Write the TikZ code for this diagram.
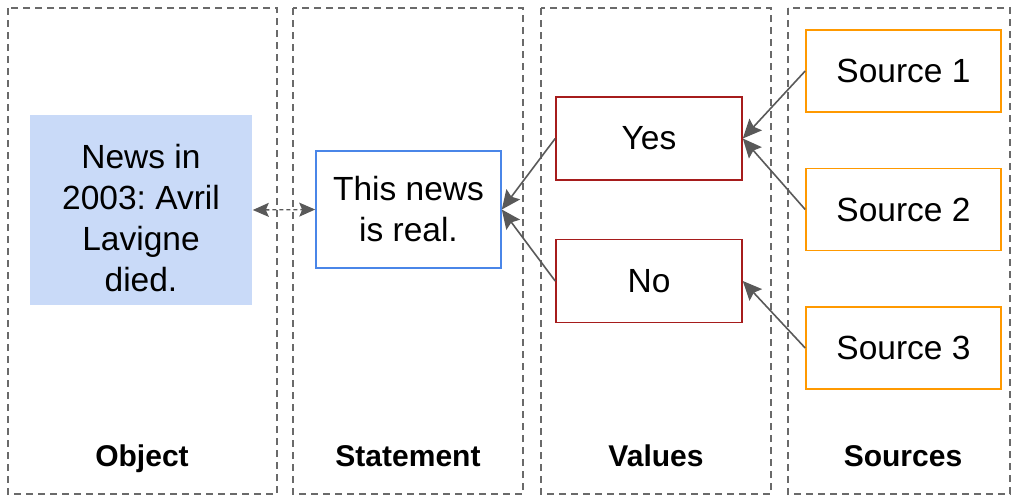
\documentclass[tikz,border=0pt]{standalone}
\usepackage{fontspec}
\setmainfont{Liberation Sans}
\frenchspacing
\usetikzlibrary{arrows.meta}
\definecolor{objfill}{HTML}{C9DAF8}
\definecolor{stmtblue}{HTML}{4A86E8}
\definecolor{valred}{HTML}{A61C1C}
\definecolor{srcorange}{HTML}{FF9900}
\definecolor{linegray}{HTML}{595959}
\begin{document}
\begin{tikzpicture}[x=1pt,y=-1pt,
  panel/.style={draw=linegray!90,line width=1.5pt,dash pattern=on 7pt off 5pt},
  title/.style={anchor=base,font=\bfseries\fontsize{30}{34}\selectfont},
  box/.style={line width=1.6pt,inner sep=0pt,align=center,
    font=\fontsize{33.5}{41}\selectfont},
  valbox/.style={box,draw=valred,minimum width=186pt,minimum height=83pt},
  srcbox/.style={box,draw=srcorange,minimum width=195pt,minimum height=82pt},
  link/.style={draw=linegray,line width=1.6pt,-{Stealth[length=19pt,width=17pt,inset=3pt]}}]
  \useasboundingbox (0,0) rectangle (1013,498);
  % the four columns
  \foreach \xa/\xb/\tx/\lbl in {8/277/142/Object,293/523/408/Statement,541/771/656/Values,788/1010/903/Sources}{
    \draw[panel] (\xa,8) rectangle (\xb,494);
    \node[title] at (\tx,466) {\lbl};
  }
  \node[box,fill=objfill,minimum width=222pt,minimum height=190pt] (obj) at (141,210)
    {\raisebox{-18pt}[0pt][0pt]{\begin{tabular}{@{}c@{}}News in\\2003: Avril\\Lavigne\\died.\end{tabular}}};
  \node[box,draw=stmtblue,minimum width=185pt,minimum height=117pt] (stmt) at (408.5,209.5)
    {This news\\is real.};
  \node[valbox] (yes) at (649,138.5) {Yes};
  \node[valbox] (no) at (649,281) {No};
  \node[srcbox] (src1) at (903.5,71) {Source 1};
  \node[srcbox] (src2) at (903.5,209.5) {Source 2};
  \node[srcbox] (src3) at (903.5,348) {Source 3};
  % links
  \draw[draw=linegray,line width=1.3pt,dash pattern=on 4pt off 3pt,
    {Stealth[length=16pt,width=14pt,inset=3pt]}-{Stealth[length=16pt,width=14pt,inset=3pt]}]
    (obj.east) -- (stmt.west);
  \draw[link] (yes.west) -- (stmt.east);
  \draw[link] (no.west) -- (stmt.east);
  \draw[link] (src1.west) -- (yes.east);
  \draw[link] (src2.west) -- (yes.east);
  \draw[link] (src3.west) -- (no.east);
\end{tikzpicture}
\end{document}
